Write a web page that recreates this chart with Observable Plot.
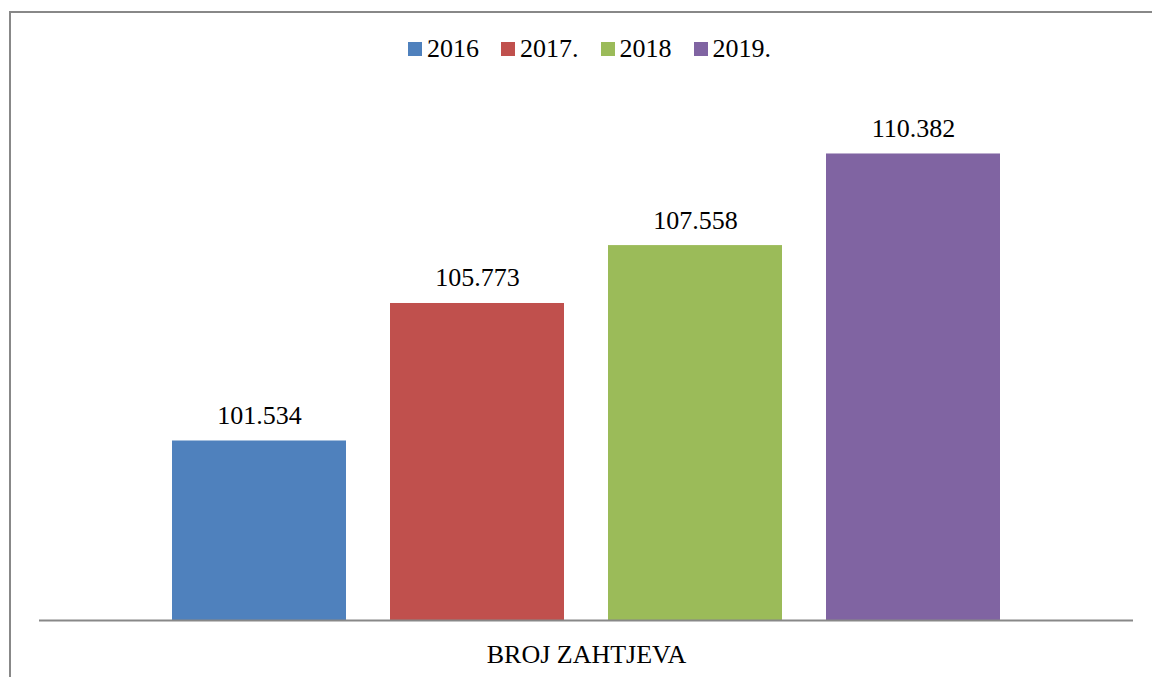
<!DOCTYPE html>
<html>
<head>
<meta charset="utf-8">
<script src="https://cdn.jsdelivr.net/npm/d3@7"></script>
<script src="https://cdn.jsdelivr.net/npm/@observablehq/plot@0.6"></script>
<style>
  html, body { margin: 0; padding: 0; background: #fff; }
  #wrap { position: relative; width: 1152px; height: 677px; overflow: hidden; font-family: "Liberation Serif", "Times New Roman", serif; }
  #frame { position: absolute; left: 9px; top: 11px; width: 1300px; height: 800px; border: 2px solid #888; box-sizing: border-box; }
  #legend { position: absolute; left: 408px; top: 36px; height: 26px; display: flex; align-items: center; font-size: 26px; line-height: 26px; color: #000; white-space: nowrap; }
  .item { display: flex; align-items: center; margin-right: 22px; }
  .sw { width: 14px; height: 14px; margin-right: 5px; }
  #chart { position: absolute; left: 0; top: 0; }
  #chart svg text { font-family: "Liberation Serif", "Times New Roman", serif !important; }
</style>
</head>
<body>
<div id="wrap">
  <div id="frame"></div>
  <div id="chart"></div>
  <div id="legend"></div>
</div>
<script>
const years = ["2016", "2017.", "2018", "2019."];
const values = [101534, 105773, 107558, 110382];
const colors = ["#4F81BD", "#C0504D", "#9BBB59", "#8064A2"];
const category = "BROJ ZAHTJEVA";
const yDomain = [96000, 112000];

const data = years.map((y, i) => ({year: y, value: values[i]}));
const fmt = d3.formatLocale({decimal: ",", thousands: ".", grouping: [3], currency: ["", ""]}).format(",");
const serif = "Liberation Serif, Times New Roman, serif";

const legend = document.getElementById("legend");
years.forEach((y, i) => {
  const it = document.createElement("div");
  it.className = "item";
  const sw = document.createElement("div");
  sw.className = "sw";
  sw.style.background = colors[i];
  const t = document.createElement("span");
  t.textContent = y;
  it.appendChild(sw);
  it.appendChild(t);
  legend.appendChild(it);
});

const chart = Plot.plot({
  width: 1152,
  height: 677,
  marginLeft: 39,
  marginRight: 19,
  marginTop: 101,
  marginBottom: 57,
  style: {fontSize: "26px", background: "transparent", overflow: "visible"},
  x: {domain: years, paddingInner: 0.2, paddingOuter: 0.6, axis: null},
  y: {domain: yDomain, axis: null},
  color: {domain: years, range: colors},
  marks: [
    Plot.rectY(data, {x: "year", y1: yDomain[0], y2: "value", fill: "year"}),
    Plot.ruleY([yDomain[0]], {stroke: "#888", strokeWidth: 2}),
    Plot.text(data, {x: "year", y: "value", text: d => fmt(d.value), dy: -17, lineAnchor: "bottom", fill: "#000", fontSize: 26, fontFamily: serif}),
    Plot.text([category], {frameAnchor: "bottom", text: d => d, dy: 42, lineAnchor: "bottom", fill: "#000", fontSize: 26, fontFamily: serif})
  ]
});
document.getElementById("chart").appendChild(chart);
</script>
</body>
</html>
